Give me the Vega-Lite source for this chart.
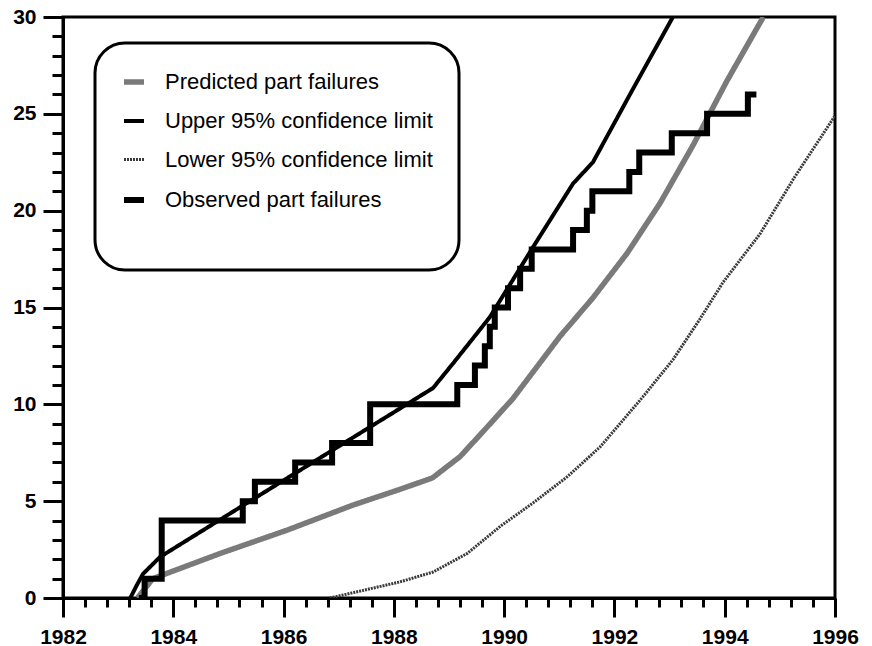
{
  "$schema": "https://vega.github.io/schema/vega-lite/v6.json",
  "autosize": "none",
  "width": 772,
  "height": 581,
  "padding": {"left": 63, "top": 17, "right": 37, "bottom": 48},
  "background": "white",
  "datasets": {
    "curves": [
      {"year": 1983.35, "value": 0, "series": "Predicted part failures"},
      {"year": 1983.63, "value": 1.0, "series": "Predicted part failures"},
      {"year": 1984.85, "value": 2.3, "series": "Predicted part failures"},
      {"year": 1986.06, "value": 3.5, "series": "Predicted part failures"},
      {"year": 1987.26, "value": 4.8, "series": "Predicted part failures"},
      {"year": 1988.1, "value": 5.6, "series": "Predicted part failures"},
      {"year": 1988.7, "value": 6.2, "series": "Predicted part failures"},
      {"year": 1989.2, "value": 7.3, "series": "Predicted part failures"},
      {"year": 1989.62, "value": 8.6, "series": "Predicted part failures"},
      {"year": 1990.16, "value": 10.3, "series": "Predicted part failures"},
      {"year": 1991.01, "value": 13.5, "series": "Predicted part failures"},
      {"year": 1991.61, "value": 15.5, "series": "Predicted part failures"},
      {"year": 1992.23, "value": 17.8, "series": "Predicted part failures"},
      {"year": 1992.83, "value": 20.4, "series": "Predicted part failures"},
      {"year": 1993.43, "value": 23.4, "series": "Predicted part failures"},
      {"year": 1994.04, "value": 26.7, "series": "Predicted part failures"},
      {"year": 1994.7, "value": 30, "series": "Predicted part failures"},
      {"year": 1983.22, "value": 0, "series": "Upper 95% confidence limit"},
      {"year": 1983.34, "value": 0.67, "series": "Upper 95% confidence limit"},
      {"year": 1983.45, "value": 1.24, "series": "Upper 95% confidence limit"},
      {"year": 1983.76, "value": 2.12, "series": "Upper 95% confidence limit"},
      {"year": 1985.39, "value": 5.0, "series": "Upper 95% confidence limit"},
      {"year": 1987.75, "value": 9.15, "series": "Upper 95% confidence limit"},
      {"year": 1988.71, "value": 10.84, "series": "Upper 95% confidence limit"},
      {"year": 1989.07, "value": 12.1, "series": "Upper 95% confidence limit"},
      {"year": 1989.74, "value": 14.5, "series": "Upper 95% confidence limit"},
      {"year": 1990.52, "value": 18.1, "series": "Upper 95% confidence limit"},
      {"year": 1991.25, "value": 21.4, "series": "Upper 95% confidence limit"},
      {"year": 1991.61, "value": 22.5, "series": "Upper 95% confidence limit"},
      {"year": 1992.32, "value": 26.2, "series": "Upper 95% confidence limit"},
      {"year": 1993.06, "value": 30, "series": "Upper 95% confidence limit"},
      {"year": 1986.84, "value": 0, "series": "Lower 95% confidence limit"},
      {"year": 1988.11, "value": 0.83, "series": "Lower 95% confidence limit"},
      {"year": 1988.71, "value": 1.34, "series": "Lower 95% confidence limit"},
      {"year": 1989.33, "value": 2.3, "series": "Lower 95% confidence limit"},
      {"year": 1989.93, "value": 3.7, "series": "Lower 95% confidence limit"},
      {"year": 1990.52, "value": 4.9, "series": "Lower 95% confidence limit"},
      {"year": 1991.14, "value": 6.25, "series": "Lower 95% confidence limit"},
      {"year": 1991.74, "value": 7.8, "series": "Lower 95% confidence limit"},
      {"year": 1992.52, "value": 10.4, "series": "Lower 95% confidence limit"},
      {"year": 1993.06, "value": 12.3, "series": "Lower 95% confidence limit"},
      {"year": 1993.55, "value": 14.4, "series": "Lower 95% confidence limit"},
      {"year": 1993.97, "value": 16.3, "series": "Lower 95% confidence limit"},
      {"year": 1994.64, "value": 18.8, "series": "Lower 95% confidence limit"},
      {"year": 1995.26, "value": 21.7, "series": "Lower 95% confidence limit"},
      {"year": 1996, "value": 24.9, "series": "Lower 95% confidence limit"}
    ],
    "observed": [
      {"year": 1983.43, "value": 0, "series": "Observed part failures"},
      {"year": 1983.48, "value": 1, "series": "Observed part failures"},
      {"year": 1983.79, "value": 4, "series": "Observed part failures"},
      {"year": 1985.26, "value": 5, "series": "Observed part failures"},
      {"year": 1985.48, "value": 6, "series": "Observed part failures"},
      {"year": 1986.21, "value": 7, "series": "Observed part failures"},
      {"year": 1986.88, "value": 8, "series": "Observed part failures"},
      {"year": 1987.57, "value": 10, "series": "Observed part failures"},
      {"year": 1989.15, "value": 11, "series": "Observed part failures"},
      {"year": 1989.47, "value": 12, "series": "Observed part failures"},
      {"year": 1989.65, "value": 13, "series": "Observed part failures"},
      {"year": 1989.74, "value": 14, "series": "Observed part failures"},
      {"year": 1989.83, "value": 15, "series": "Observed part failures"},
      {"year": 1990.07, "value": 16, "series": "Observed part failures"},
      {"year": 1990.29, "value": 17, "series": "Observed part failures"},
      {"year": 1990.5, "value": 18, "series": "Observed part failures"},
      {"year": 1991.25, "value": 19, "series": "Observed part failures"},
      {"year": 1991.5, "value": 20, "series": "Observed part failures"},
      {"year": 1991.6, "value": 21, "series": "Observed part failures"},
      {"year": 1992.27, "value": 22, "series": "Observed part failures"},
      {"year": 1992.45, "value": 23, "series": "Observed part failures"},
      {"year": 1993.04, "value": 24, "series": "Observed part failures"},
      {"year": 1993.68, "value": 25, "series": "Observed part failures"},
      {"year": 1994.42, "value": 26, "series": "Observed part failures"},
      {"year": 1994.52, "value": 26, "series": "Observed part failures"}
    ]
  },
  "encoding": {
    "x": {
      "field": "year", "type": "quantitative",
      "scale": {"domain": [1982, 1996], "nice": false, "zero": false},
      "axis": {
        "title": null, "grid": false,
        "tickCount": 200,
        "values": [1982, 1982.4, 1982.8, 1983.2, 1983.6, 1984, 1984.4, 1984.8, 1985.2, 1985.6, 1986, 1986.4, 1986.8, 1987.2, 1987.6, 1988, 1988.4, 1988.8, 1989.2, 1989.6, 1990, 1990.4, 1990.8, 1991.2, 1991.6, 1992, 1992.4, 1992.8, 1993.2, 1993.6, 1994, 1994.4, 1994.8, 1995.2, 1995.6, 1996],
        "labelExpr": "datum.value % 2 === 0 ? '' + datum.value : ''",
        "labelOverlap": false,
        "labelFlush": false,
        "tickSize": {"condition": {"test": "datum.value % 2 === 0", "value": 19}, "value": 9},
        "tickWidth": 3, "tickColor": "black",
        "domainWidth": 3, "domainColor": "black",
        "labelFont": "Liberation Sans", "labelFontWeight": "bold", "labelFontSize": 21,
        "labelColor": "black", "labelPadding": 9
      }
    },
    "y": {
      "field": "value", "type": "quantitative",
      "scale": {"domain": [0, 30], "nice": false},
      "axis": {
        "title": null, "grid": false,
        "tickCount": 200,
        "values": [0, 1, 2, 3, 4, 5, 6, 7, 8, 9, 10, 11, 12, 13, 14, 15, 16, 17, 18, 19, 20, 21, 22, 23, 24, 25, 26, 27, 28, 29, 30],
        "labelExpr": "datum.value % 5 === 0 ? '' + datum.value : ''",
        "labelOverlap": false,
        "labelFlush": false,
        "tickSize": {"condition": {"test": "datum.value % 5 === 0", "value": 20}, "value": 11},
        "tickWidth": 3, "tickColor": "black",
        "domainWidth": 3, "domainColor": "black",
        "labelFont": "Liberation Sans", "labelFontWeight": "bold", "labelFontSize": 21,
        "labelColor": "black", "labelPadding": 7
      }
    },
    "color": {
      "field": "series", "type": "nominal",
      "scale": {
        "domain": ["Predicted part failures", "Upper 95% confidence limit", "Lower 95% confidence limit", "Observed part failures"],
        "range": ["#7a7a7a", "#000000", "#3a3a3a", "#000000"]
      },
      "legend": {
        "title": " ", "titleOrient": "bottom", "titlePadding": 12, "titleFontSize": 20,
        "orient": "none", "legendX": 32, "legendY": 26,
        "padding": 26, "cornerRadius": 30,
        "strokeColor": "black", "fillColor": "white",
        "labelFont": "Liberation Sans", "labelFontSize": 22, "labelColor": "black",
        "labelOffset": 18, "rowPadding": 16,
        "symbolType": "stroke", "symbolSize": 400,
        "labelLimit": 400,
        "encode": {"legend": {"update": {"strokeWidth": {"value": 3}}}}
      }
    },
    "strokeWidth": {
      "field": "series", "type": "nominal",
      "scale": {
        "type": "ordinal",
        "domain": ["Predicted part failures", "Upper 95% confidence limit", "Lower 95% confidence limit", "Observed part failures"],
        "range": [5.5, 4, 3, 6]
      },
      "legend": null
    },
    "strokeDash": {
      "field": "series", "type": "nominal",
      "scale": {
        "domain": ["Predicted part failures", "Upper 95% confidence limit", "Lower 95% confidence limit", "Observed part failures"],
        "range": [[1, 0], [1, 0], [2, 1], [1, 0]]
      },
      "legend": null
    }
  },
  "layer": [
    {
      "data": {"name": "curves"},
      "mark": {"type": "line", "interpolate": "linear", "clip": true}
    },
    {
      "data": {"name": "observed"},
      "mark": {"type": "line", "interpolate": "step-after", "clip": true, "strokeCap": "square"}
    }
  ],
  "config": {
    "view": {"stroke": "black", "strokeWidth": 3}
  }
}
